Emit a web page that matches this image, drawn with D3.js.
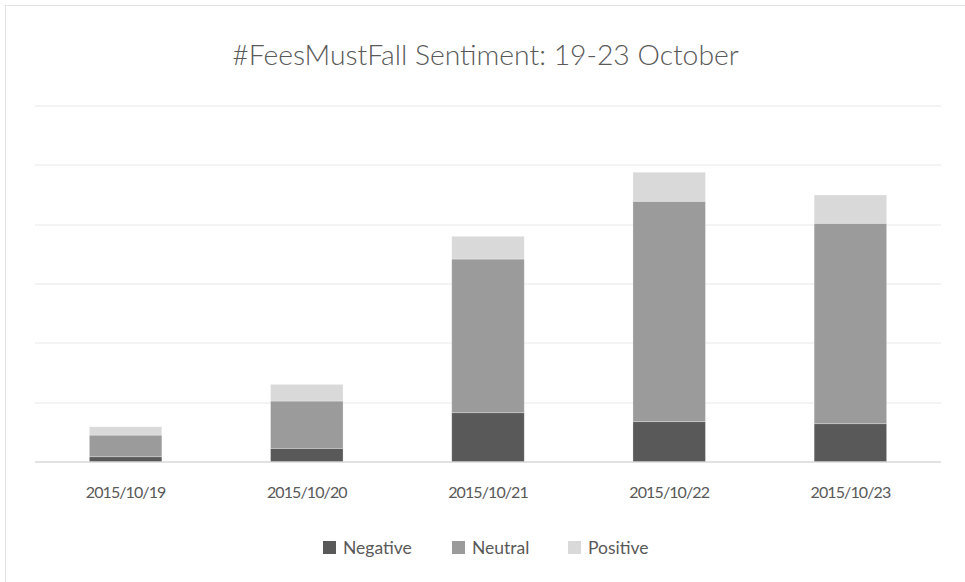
<!DOCTYPE html>
<html>
<head>
<meta charset="utf-8">
<script src="https://cdn.jsdelivr.net/npm/d3@7"></script>
<style>
  body { margin: 0; background: #fff; }
  text { font-family: "Lato", sans-serif; fill: #595959; }
</style>
</head>
<body>
<svg width="965" height="582"></svg>
<script>
// tweet counts per day (one gridline = 1000)
var days = ["2015/10/19", "2015/10/20", "2015/10/21", "2015/10/22", "2015/10/23"];
var negative = [80, 222, 822, 671, 637];
var neutral = [365, 797, 2590, 3715, 3378];
var positive = [140, 281, 383, 489, 477];
var seriesNames = ["Negative", "Neutral", "Positive"];
var seriesColors = ["#595959", "#9a9b9a", "#d9d9d9"];
var gridTicks = [0, 1000, 2000, 3000, 4000, 5000, 6000];

var svg = d3.select("svg");

// outer frame, cut off at right and bottom like the screenshot
svg.append("rect")
    .attr("x", 5.5).attr("y", 5.5)
    .attr("width", 1000).attr("height", 1000)
    .attr("fill", "none")
    .attr("stroke", "#e3e3e3");

var margin = {left: 35, right: 24, top: 105.5, bottom: 120.5};
var width = 965 - margin.left - margin.right,
    height = 582 - margin.top - margin.bottom;

var rows = days.map(function(d, i) {
    return {day: d, Negative: negative[i], Neutral: neutral[i], Positive: positive[i]};
});

var x = d3.scaleBand()
    .domain(days)
    .range([0, width])
    .paddingInner(0.6)
    .paddingOuter(0.3);

var y = d3.scaleLinear()
    .domain([0, 6000])
    .range([height, 0]);

var color = d3.scaleOrdinal().domain(seriesNames).range(seriesColors);

var g = svg.append("g")
    .attr("transform", "translate(" + margin.left + "," + margin.top + ")");

// gridlines
g.append("g")
    .selectAll("line")
    .data(gridTicks)
    .enter().append("line")
        .attr("x1", 0)
        .attr("x2", width)
        .attr("y1", function(d) { return Math.round(y(d)) + 0.5; })
        .attr("y2", function(d) { return Math.round(y(d)) + 0.5; })
        .attr("stroke", function(d) { return d == 0 ? "#d9d9d9" : "#e8e8e8"; })
        .attr("stroke-width", function(d) { return d == 0 ? 1.5 : 1; });

var stack = d3.stack().keys(seriesNames);
var layers = stack(rows);

g.append("g")
    .selectAll("g")
    .data(layers)
    .enter().append("g")
        .attr("fill", function(d) { return color(d.key); })
    .selectAll("rect")
    .data(function(d) { return d; })
    .enter().append("rect")
        .attr("x", function(d) { return x(d.data.day); })
        .attr("y", function(d) { return y(d[1]); })
        .attr("width", x.bandwidth())
        .attr("height", function(d) { return y(d[0]) - y(d[1]); })
        .attr("stroke", "#ffffff")
        .attr("stroke-opacity", 0.35)
        .attr("stroke-width", 0.75);

// x axis labels, no ticks or domain line
var xAxis = g.append("g")
    .attr("transform", "translate(0," + height + ")")
    .call(d3.axisBottom(x).tickSize(0).tickPadding(25));
xAxis.select(".domain").remove();
xAxis.selectAll("text")
    .style("font-family", null)
    .attr("font-size", 16)
    .attr("letter-spacing", -0.9);

// title
svg.append("text")
    .attr("x", 485.5)
    .attr("y", 65)
    .attr("text-anchor", "middle")
    .attr("font-size", 28.3)
    .attr("font-weight", 300)
    .text("#FeesMustFall Sentiment: 19-23 October");

// legend
var legendX = [323, 452, 568];
var legend = svg.append("g")
    .selectAll("g")
    .data(seriesNames)
    .enter().append("g")
        .attr("transform", function(d, i) { return "translate(" + legendX[i] + ",541)"; });

legend.append("rect")
    .attr("width", 13)
    .attr("height", 13)
    .attr("fill", function(d) { return color(d); });

legend.append("text")
    .attr("x", 20)
    .attr("y", 12.5)
    .attr("font-size", 17.5)
    .text(function(d) { return d; });
</script>
</body>
</html>
